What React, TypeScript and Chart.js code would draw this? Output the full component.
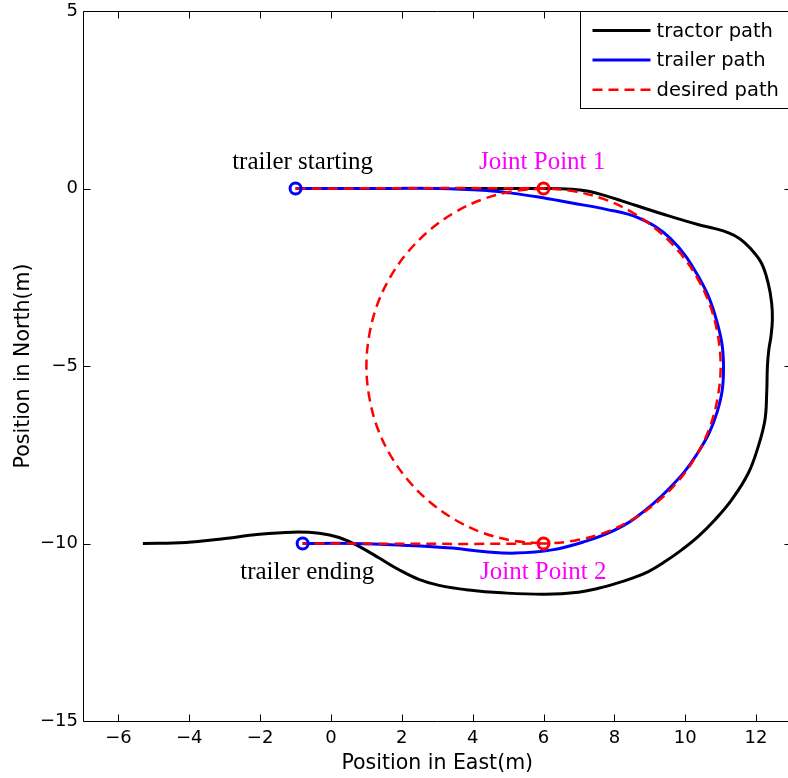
import React, { useEffect, useRef } from 'react';
import { Chart, registerables } from 'chart.js';

Chart.register(...registerables);

// ---------------- data ----------------
const X_TICKS = [-6, -4, -2, 0, 2, 4, 6, 8, 10, 12];
const Y_TICKS = [-15, -10, -5, 0, 5];
const X_MIN = -7;
const X_MAX = 13;
const Y_MIN = -15;
const Y_MAX = 5;

const X_LABEL = 'Position in East(m)';
const Y_LABEL = 'Position in North(m)';

// tractor path (black)
const TRACTOR_X = [3.5, 5, 5.9, 6.8, 7.27, 7.74, 8.21, 8.68, 9.43, 10.38, 10.84, 11.2, 11.55, 11.85, 12.15, 12.34, 12.44, 12.46, 12.42, 12.36, 12.32, 12.3, 12.25, 12.06, 11.78, 11.31, 10.84, 10.37, 9.9, 9.43, 8.96, 8.49, 8.03, 7.55, 6.99, 6.05, 4.83, 3.89, 3.05, 2.48, 1.92, 1.36, 0.79, 0.23, -0.33, -1.08, -2.02, -3.15, -4.09, -5.31];
const TRACTOR_Y = [0, 0, 0, -0.02, -0.08, -0.2, -0.35, -0.5, -0.74, -1.02, -1.13, -1.24, -1.42, -1.7, -2.1, -2.66, -3.23, -3.7, -4.17, -4.54, -5.01, -5.76, -6.52, -7.27, -8.02, -8.77, -9.33, -9.8, -10.18, -10.51, -10.79, -10.98, -11.13, -11.26, -11.37, -11.43, -11.39, -11.31, -11.18, -11.01, -10.74, -10.41, -10.08, -9.83, -9.71, -9.68, -9.74, -9.88, -9.97, -10.0];

// trailer path (blue)
const TRAILER_X = [-1, 1, 3.05, 4.46, 4.93, 5.86, 6.8, 7.74, 8.68, 9.57, 10.36, 10.88, 11.08, 10.9, 10.32, 9.5, 8.59, 7.93, 7.18, 6.24, 5.21, 4.36, 3.42, 2.01, 0.6, -0.8];
const TRAILER_Y = [0, 0, 0, -0.06, -0.11, -0.24, -0.41, -0.58, -0.83, -1.4, -2.46, -3.7, -5.0, -6.3, -7.5, -8.5, -9.28, -9.66, -9.94, -10.18, -10.27, -10.23, -10.13, -10.05, -10.0, -10.0];

// desired path (red dashed): straight in, right half of the circle, straight out
const DESIRED_X = [-1, 6, 6.87, 7.71, 8.5, 9.21, 9.83, 10.33, 10.7, 10.92, 11, 10.92, 10.7, 10.33, 9.83, 9.21, 8.5, 7.71, 6.87, 6, -0.8];
const DESIRED_Y = [0, 0, -0.08, -0.3, -0.67, -1.17, -1.79, -2.5, -3.29, -4.13, -5, -5.87, -6.71, -7.5, -8.21, -8.83, -9.33, -9.7, -9.92, -10, -10];
// desired path: left half of the circle
const DESIRED_LEFT_X = [6, 5.13, 4.29, 3.5, 2.79, 2.17, 1.67, 1.3, 1.08, 1, 1.08, 1.3, 1.67, 2.17, 2.79, 3.5, 4.29, 5.13, 6];
const DESIRED_LEFT_Y = [0, -0.08, -0.3, -0.67, -1.17, -1.79, -2.5, -3.29, -4.13, -5, -5.87, -6.71, -7.5, -8.21, -8.83, -9.33, -9.7, -9.92, -10];

// markers
const BLUE_MARK_X = [-1, -0.8];
const BLUE_MARK_Y = [0, -10];
const RED_MARK_X = [6, 6];
const RED_MARK_Y = [0, -10];

// text annotations (data coordinates, baseline centre)
const ANNOT_TEXT = ['trailer starting', 'Joint Point 1', 'trailer ending', 'Joint Point 2'];
const ANNOT_X = [-0.8, 5.96, -0.67, 5.99];
const ANNOT_Y = [0.55, 0.55, -11.0, -11.0];
const ANNOT_COLOR = ['#000000', '#ff00ff', '#000000', '#ff00ff'];

const LEGEND_LABELS = ['tractor path', 'trailer path', 'desired path'];

// ---------------- styling ----------------
const FONT_SANS = '"DejaVu Sans", sans-serif';
const FONT_SERIF = '"Liberation Serif", "Times New Roman", serif';
const DASH = [10, 6];

const pts = (xs: number[], ys: number[]) => xs.map((x, i) => ({ x, y: ys[i] }));
const fmt = (v: number) => (v < 0 ? '\u2212' + Math.abs(v) : String(v));

const decorPlugin = {
  id: 'matlabDecor',
  afterDatasetsDraw(chart: any) {
    const { ctx, chartArea: ca, scales } = chart;
    const xs = scales.x;
    const ys = scales.y;
    ctx.save();
    // annotations
    ctx.font = `25px ${FONT_SERIF}`;
    ctx.textAlign = 'center';
    ctx.textBaseline = 'alphabetic';
    ANNOT_TEXT.forEach((t, i) => {
      ctx.fillStyle = ANNOT_COLOR[i];
      ctx.fillText(t, xs.getPixelForValue(ANNOT_X[i]), ys.getPixelForValue(ANNOT_Y[i]));
    });
    // axes box
    ctx.setLineDash([]);
    ctx.strokeStyle = '#000';
    ctx.lineWidth = 1;
    const L = Math.round(ca.left) + 0.5;
    const R = Math.round(ca.right) - 0.5;
    const T = Math.round(ca.top) + 0.5;
    const B = Math.round(ca.bottom) + 0.5;
    ctx.beginPath();
    ctx.moveTo(L, T);
    ctx.lineTo(R, T);
    ctx.lineTo(R, B);
    ctx.lineTo(L, B);
    ctx.closePath();
    ctx.stroke();
    // inward ticks on all four sides
    const tl = 7;
    ctx.beginPath();
    X_TICKS.forEach((v) => {
      const p = Math.round(xs.getPixelForValue(v)) + 0.5;
      ctx.moveTo(p, B);
      ctx.lineTo(p, B - tl);
      ctx.moveTo(p, T);
      ctx.lineTo(p, T + tl);
    });
    Y_TICKS.forEach((v) => {
      const p = Math.round(ys.getPixelForValue(v)) + 0.5;
      ctx.moveTo(L, p);
      ctx.lineTo(L + tl, p);
      ctx.moveTo(R, p);
      ctx.lineTo(R - tl, p);
    });
    ctx.stroke();
    ctx.restore();
  },
  afterDraw(chart: any) {
    const { ctx, chartArea: ca } = chart;
    const ds = chart.data.datasets;
    ctx.save();
    const lx0 = Math.round(ca.right) - 212 + 0.5;
    const lx1 = Math.round(ca.right) - 0.5;
    const ly0 = Math.round(ca.top) + 0.5;
    const ly1 = ly0 + 97;
    ctx.fillStyle = '#fff';
    ctx.fillRect(lx0, ly0, lx1 - lx0, ly1 - ly0);
    ctx.strokeStyle = '#000';
    ctx.lineWidth = 1;
    ctx.strokeRect(lx0, ly0, lx1 - lx0, ly1 - ly0);
    ctx.font = `19.5px ${FONT_SANS}`;
    ctx.textAlign = 'left';
    ctx.textBaseline = 'middle';
    LEGEND_LABELS.forEach((lab, i) => {
      const d = ds.find((s: any) => s.label === lab);
      const y = ly0 + 19 + i * 29.6;
      ctx.strokeStyle = d.borderColor;
      ctx.lineWidth = d.borderWidth;
      ctx.setLineDash(d.borderDash || []);
      ctx.beginPath();
      ctx.moveTo(lx0 + 12, y);
      ctx.lineTo(lx0 + 70, y);
      ctx.stroke();
      ctx.setLineDash([]);
      ctx.fillStyle = '#000';
      ctx.fillText(lab, lx0 + 76, y + 1);
    });
    ctx.restore();
  },
};

export default function App() {
  const ref = useRef<HTMLCanvasElement>(null);
  useEffect(() => {
    if (!ref.current) return;
    const lineBase = { showLine: true, pointRadius: 0, pointHoverRadius: 0, fill: false };
    const chart = new Chart(ref.current, {
      type: 'scatter',
      data: {
        datasets: [
          { ...lineBase, label: 'tractor path', data: pts(TRACTOR_X, TRACTOR_Y), borderColor: '#000000', borderWidth: 3, tension: 0.4, order: 4 },
          { ...lineBase, label: 'trailer path', data: pts(TRAILER_X, TRAILER_Y), borderColor: '#0000ff', borderWidth: 3, tension: 0.4, order: 3 },
          { ...lineBase, label: 'desired path', data: pts(DESIRED_X, DESIRED_Y), borderColor: '#ff0000', borderWidth: 2.5, borderDash: DASH, tension: 0.35, order: 2 },
          { ...lineBase, label: 'desired path (circle)', data: pts(DESIRED_LEFT_X, DESIRED_LEFT_Y), borderColor: '#ff0000', borderWidth: 2.5, borderDash: DASH, tension: 0.35, order: 2 },
          { label: 'trailer marks', data: pts(BLUE_MARK_X, BLUE_MARK_Y), showLine: false, pointStyle: 'circle', pointRadius: 5.5, pointBorderWidth: 3, pointBorderColor: '#0000ff', pointBackgroundColor: 'rgba(0,0,0,0)', borderColor: '#0000ff', order: 1 },
          { label: 'joint marks', data: pts(RED_MARK_X, RED_MARK_Y), showLine: false, pointStyle: 'circle', pointRadius: 5.5, pointBorderWidth: 3, pointBorderColor: '#ff0000', pointBackgroundColor: 'rgba(0,0,0,0)', borderColor: '#ff0000', order: 1 },
        ] as any,
      },
      options: {
        animation: false,
        responsive: false,
        devicePixelRatio: 1,
        events: [],
        layout: { padding: { left: 0, top: 11, right: 7, bottom: 0 } },
        plugins: { legend: { display: false }, tooltip: { enabled: false } },
        scales: {
          x: {
            type: 'linear',
            min: X_MIN,
            max: X_MAX,
            grid: { display: false, drawTicks: false },
            border: { display: false },
            afterBuildTicks: (s: any) => { s.ticks = X_TICKS.map((v) => ({ value: v })); },
            afterFit: (s: any) => { s.height = 57; s.paddingLeft = 0; s.paddingRight = 0; },
            ticks: { callback: (v: any) => fmt(Number(v)), color: '#000', font: { family: FONT_SANS, size: 18 }, padding: 7, autoSkip: false, maxRotation: 0, minRotation: 0 },
            title: { display: true, text: X_LABEL, color: '#000', font: { family: FONT_SANS, size: 20.5 }, padding: { top: 0, bottom: 2 } },
          },
          y: {
            type: 'linear',
            min: Y_MIN,
            max: Y_MAX,
            grid: { display: false, drawTicks: false },
            border: { display: false },
            afterBuildTicks: (s: any) => { s.ticks = Y_TICKS.map((v) => ({ value: v })); },
            afterFit: (s: any) => { s.width = 83; s.paddingTop = 0; s.paddingBottom = 0; },
            ticks: { callback: (v: any) => fmt(Number(v)), color: '#000', font: { family: FONT_SANS, size: 18 }, padding: 5, autoSkip: false },
            title: { display: true, text: Y_LABEL, color: '#000', font: { family: FONT_SANS, size: 20.5 }, padding: { top: 11, bottom: 0 } },
          },
        },
      } as any,
      plugins: [decorPlugin],
    });
    return () => chart.destroy();
  }, []);
  return (
    <div style={{ position: 'absolute', left: 0, top: 0, width: 788, height: 778, overflow: 'hidden', background: '#ffffff' }}>
      <canvas ref={ref} width={800} height={778} style={{ display: 'block', width: 800, height: 778 }} />
    </div>
  );
}
